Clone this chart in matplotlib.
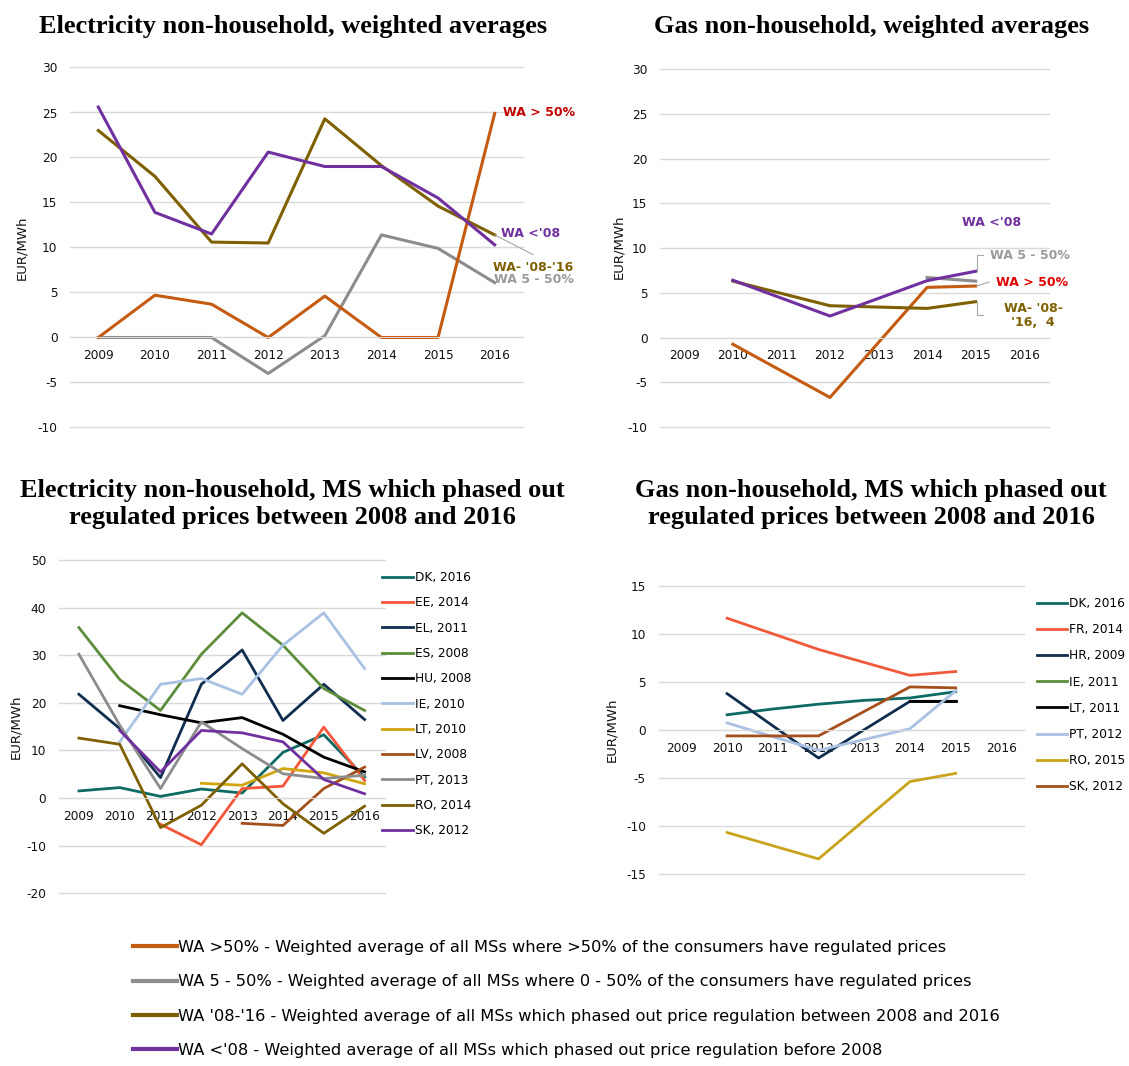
import numpy as np
import matplotlib
matplotlib.use('Agg')
from matplotlib import pyplot as plt
from matplotlib.lines import Line2D

nan = np.nan
years = ['2009', '2010', '2011', '2012', '2013', '2014', '2015', '2016']

# electricity non-household, weighted averages
el_wa_gt50 = [0, 4.7, 3.7, 0, 4.6, 0, 0, 24.9]
el_wa_5_50 = [0, 0, 0, -4.0, 0.2, 11.4, 9.9, 6.1]
el_wa_0816 = [23.0, 17.9, 10.6, 10.5, 24.3, 19.1, 14.6, 11.4]
el_wa_lt08 = [25.6, 13.9, 11.5, 20.6, 19.0, 19.0, 15.5, 10.3]

# gas non-household, weighted averages
gas_wa_gt50 = [nan, -0.75, nan, -6.7, nan, 5.6, 5.75, nan]
gas_wa_5_50 = [nan, nan, nan, nan, nan, 6.7, 6.3, nan]
gas_wa_0816 = [nan, 6.3, nan, 3.55, nan, 3.25, 4.0, nan]
gas_wa_lt08 = [nan, 6.4, nan, 2.4, nan, 6.35, 7.4, nan]

# electricity, MS which phased out regulated prices 2008-2016
el_ms_labels = ['DK, 2016', 'EE, 2014', 'EL, 2011', 'ES, 2008', 'HU, 2008', 'IE, 2010',
                'LT, 2010', 'LV, 2008', 'PT, 2013', 'RO, 2014', 'SK, 2012']
el_dk = [1.5, 2.2, 0.35, 1.9, 1.05, 9.6, 13.3, 4.4]
el_ee = [nan, nan, -5.5, -9.8, 2.0, 2.5, 14.9, 3.7]
el_el = [21.8, 14.6, 4.3, 23.9, 31.1, 16.3, 23.9, 16.5]
el_es = [35.8, 24.9, 18.4, 30.2, 38.9, 32.1, 23.0, 18.4]
el_hu = [nan, 19.4, 17.5, 15.8, 16.9, 13.4, 8.6, 5.5]
el_ie = [nan, 11.8, 23.9, 25.1, 21.8, 32.1, 38.9, 27.2]
el_lt = [nan, nan, nan, 3.1, 2.7, 6.2, 5.3, 3.0]
el_lv = [nan, nan, nan, nan, -5.3, -5.75, 2.0, 6.5]
el_pt = [30.2, 15.3, 2.0, 16.0, 10.4, 5.1, 4.1, 4.8]
el_ro = [12.6, 11.3, -6.2, -1.5, 7.2, -1.2, -7.4, -1.7]
el_sk = [nan, 14.2, 5.5, 14.2, 13.7, 11.8, 3.9, 0.9]

# gas, MS which phased out regulated prices 2008-2016
gas_ms_labels = ['DK, 2016', 'FR, 2014', 'HR, 2009', 'IE, 2011', 'LT, 2011',
                 'PT, 2012', 'RO, 2015', 'SK, 2012']
gas_dk = [nan, 1.6, 2.2, 2.7, 3.1, 3.35, 4.0, nan]
gas_fr = [nan, 11.65, nan, 8.4, nan, 5.7, 6.1, nan]
gas_hr = [nan, 3.8, nan, -2.9, nan, 3.0, 3.0, nan]
gas_ie = [nan] * 8
gas_lt = [nan, nan, nan, nan, nan, 3.0, 3.0, nan]
gas_pt = [nan, 0.75, nan, -2.1, nan, 0.15, 4.1, nan]
gas_ro = [nan, -10.65, nan, -13.4, nan, -5.35, -4.5, nan]
gas_sk = [nan, -0.6, nan, -0.6, nan, 4.5, 4.4, nan]

wa_legend = ["WA >50% - Weighted average of all MSs where >50% of the consumers have regulated prices",
             "WA 5 - 50% - Weighted average of all MSs where 0 - 50% of the consumers have regulated prices",
             "WA '08-'16 - Weighted average of all MSs which phased out price regulation between 2008 and 2016",
             "WA <'08 - Weighted average of all MSs which phased out price regulation before 2008"]

C_GT50, C_5_50, C_0816, C_LT08 = '#C55A11', '#8C8C8C', '#7F6000', '#7030A0'
el_ms_colors = ['#0E6B63', '#F4563A', '#0F2D4F', '#5C8D3A', '#000000', '#A9C1E3',
                '#D1A50F', '#A5501C', '#8C8C8C', '#7F6000', '#7030A0']
gas_ms_colors = ['#0E6B63', '#F05A3C', '#0F2D4F', '#5C8D3A', '#000000',
                 '#A9C1E3', '#C9A41B', '#A5501C']

plt.rcParams['font.family'] = 'DejaVu Sans'
plt.rcParams['axes.unicode_minus'] = False

W, H = 1129, 1066
fig = plt.figure(figsize=(W / 100, H / 100), dpi=100)
x = np.arange(len(years))


def px_axes(x0, y0, x1, y1):
    return fig.add_axes([x0 / W, 1 - y1 / H, (x1 - x0) / W, (y1 - y0) / H])


def style(ax, lo, hi, step):
    ax.set_xlim(-0.5, len(years) - 0.5)
    ax.set_ylim(lo, hi)
    ax.set_yticks(range(lo, hi + 1, step))
    ax.set_xticks(x)
    ax.set_xticklabels(years)
    ax.grid(axis='y', color='#d9d9d9', lw=1)
    for gl in ax.get_ygridlines():
        gl.set_clip_on(False)
    ax.set_axisbelow(True)
    for s in ['top', 'right', 'left']:
        ax.spines[s].set_visible(False)
    ax.spines['bottom'].set_position(('data', 0))
    ax.spines['bottom'].set_color('#d9d9d9')
    ax.tick_params(length=0, labelsize=8.7, colors='#111111')
    ax.tick_params(axis='x', pad=8.5)
    ax.tick_params(axis='y', pad=9)


def draw(ax, vals, color, label=None, lw=2.2):
    v = np.array(vals, dtype=float)
    ok = ~np.isnan(v)
    ax.plot(x[ok], v[ok], color=color, lw=lw, label=label)


def ylab(xpx, ypx):
    fig.text(xpx / W, 1 - ypx / H, 'EUR/MWh', rotation=90, ha='center', va='center',
             fontsize=9.5, color='#111111')


def title(xpx, ypx, txt):
    fig.text(xpx / W, 1 - ypx / H, txt, ha='center', va='center', fontsize=19,
             family='Liberation Serif', weight='bold')


# ---- top left
ax1 = px_axes(70, 67.5, 523, 427.5)
style(ax1, -10, 30, 5)
draw(ax1, el_wa_5_50, C_5_50)
draw(ax1, el_wa_gt50, C_GT50)
draw(ax1, el_wa_0816, C_0816)
draw(ax1, el_wa_lt08, C_LT08)
lab = dict(fontsize=9, weight='bold', va='center', ha='left', clip_on=False)
ax1.text(7.15, 25.05, 'WA > 50%', color='#C00000', **lab)
ax1.text(7.11, 11.5, "WA <'08", color=C_LT08, **lab)
ax1.text(6.97, 7.8, "WA- '08-'16", color=C_0816, **lab)
ax1.text(6.99, 6.4, 'WA 5 - 50%', color='#9a9a9a', **lab)
ax1.annotate('', xy=(7, el_wa_0816[-1]), xytext=(7.68, 9.2), annotation_clip=False,
             arrowprops=dict(arrowstyle='-', color='#a6a6a6', lw=0.8, shrinkA=0, shrinkB=0))
ylab(22, 247.5)
title(293.5, 26, 'Electricity non-household, weighted averages')

# ---- top right
ax2 = px_axes(660, 69, 1048.5, 427)
style(ax2, -10, 30, 5)
draw(ax2, gas_wa_5_50, C_5_50)
draw(ax2, gas_wa_gt50, C_GT50)
draw(ax2, gas_wa_0816, C_0816)
draw(ax2, gas_wa_lt08, C_LT08)
ax2.text(5.72, 12.8, "WA <'08", color=C_LT08, **lab)
ax2.text(6.30, 9.2, 'WA 5 - 50%', color='#9a9a9a', **lab)
ax2.text(6.42, 6.2, 'WA > 50%', color='#E00000', **lab)
ax2.text(7.18, 2.46, "WA- '08-\n'16,  4", color=C_0816, fontsize=9, weight='bold',
         ha='center', va='center', linespacing=1.15, clip_on=False)
lead = dict(color='#a6a6a6', lw=0.8, clip_on=False)
ax2.plot([6.16, 6.02, 6.02], [9.2, 9.2, 7.4], **lead)
ax2.plot([6.16, 6.02, 6.02], [2.5, 2.5, gas_wa_0816[6]], **lead)
ax2.plot([6.02, 6.28], [gas_wa_gt50[6], 6.2], **lead)
ylab(619, 247)
title(872, 26, 'Gas non-household, weighted averages')

# ---- bottom left
ax3 = px_axes(58.5, 560, 385, 893.3)
style(ax3, -20, 50, 10)
for vals, c, l in zip([el_dk, el_ee, el_el, el_es, el_hu, el_ie, el_lt, el_lv, el_pt, el_ro, el_sk],
                      el_ms_colors, el_ms_labels):
    draw(ax3, vals, c, l, lw=2)
ax3.legend(loc='upper left', bbox_to_anchor=(382 / W, 1 - 571 / H), bbox_transform=fig.transFigure,
           frameon=False, fontsize=8.7, handlelength=2.6, handletextpad=0.15,
           labelspacing=1.02, borderpad=0, borderaxespad=0)
ylab(16, 727)
title(292, 490, 'Electricity non-household, MS which phased out')
title(292, 518, 'regulated prices between 2008 and 2016')

# ---- bottom right
ax4 = px_axes(658.5, 586, 1024.3, 874.3)
style(ax4, -15, 15, 5)
for vals, c, l in zip([gas_dk, gas_fr, gas_hr, gas_ie, gas_lt, gas_pt, gas_ro, gas_sk],
                      gas_ms_colors, gas_ms_labels):
    draw(ax4, vals, c, l, lw=2)
ax4.legend(loc='upper left', bbox_to_anchor=(1037 / W, 1 - 597 / H), bbox_transform=fig.transFigure,
           frameon=False, fontsize=8.7, handlelength=2.5, handletextpad=0.15,
           labelspacing=1.09, borderpad=0, borderaxespad=0)
ylab(612, 730)
title(871, 490, 'Gas non-household, MS which phased out')
title(871, 518, 'regulated prices between 2008 and 2016')

# ---- shared legend
handles = [Line2D([], [], color=c, lw=3) for c in [C_GT50, C_5_50, C_0816, C_LT08]]
fig.legend(handles, wa_legend, loc='upper left', bbox_to_anchor=(133 / W, 1 - 940 / H),
           frameon=False, fontsize=11.7, handlelength=2.7, handletextpad=0.05,
           labelspacing=1.19, borderpad=0, borderaxespad=0)

fig.savefig('out.png', dpi=100)
